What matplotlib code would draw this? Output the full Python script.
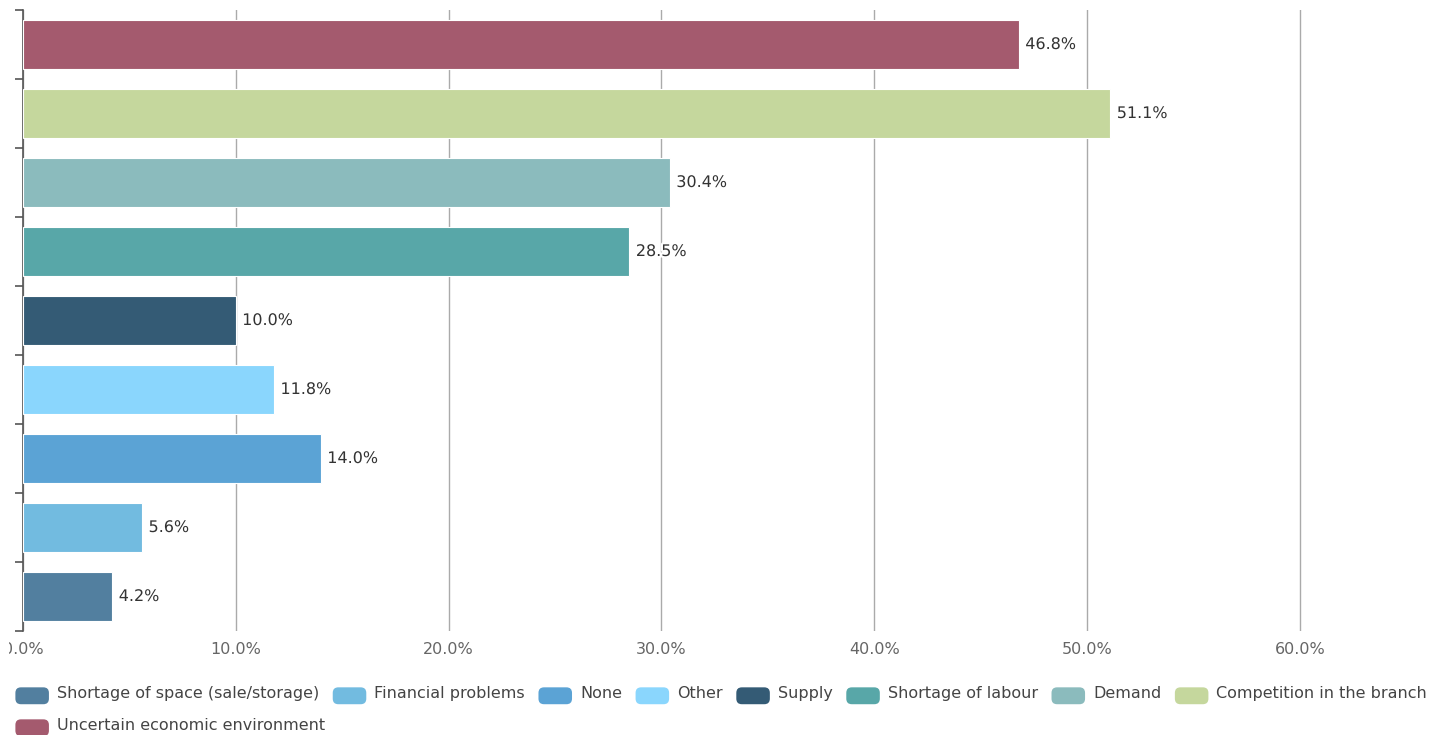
import matplotlib
matplotlib.use("Agg")
import matplotlib.pyplot as plt
import matplotlib.patheffects as pe
from matplotlib.patches import FancyBboxPatch, Patch
from matplotlib.legend_handler import HandlerPatch
from matplotlib.transforms import Bbox, TransformedBbox
import numpy as np

# obstacles to business, share of answers (%), bottom to top
categories = [
    "Shortage of space (sale/storage)",
    "Financial problems",
    "None",
    "Other",
    "Supply",
    "Shortage of labour",
    "Demand",
    "Competition in the branch",
    "Uncertain economic environment",
]
values = [4.2, 5.6, 14.0, 11.8, 10.0, 28.5, 30.4, 51.1, 46.8]
colors = ["#527f9f", "#72bbe0", "#5ba3d5", "#8ad6fd", "#345b75",
          "#58a7a8", "#8bbbbd", "#c5d79d", "#a45a6e"]
xticks = [0, 10, 20, 30, 40, 50, 60]

plt.rcParams['font.family'] = ['DejaVu Sans']
FS = 11.5

W, H = 1450, 735
fig = plt.figure(figsize=(W / 100, H / 100), dpi=100)
ax = fig.add_axes([23 / W, 1 - 631 / H, (1448 - 23) / W, (631 - 10) / H])

y = np.arange(len(categories))
bars = ax.barh(y, values, height=0.7, color=colors, edgecolor="white",
               linewidth=0.8, zorder=3)

for b, v in zip(bars, values):
    ax.text(v + 0.3, b.get_y() + b.get_height() / 2, f"{v:.1f}%",
            va="center", ha="left", fontsize=FS, color="#333333", zorder=4,
            path_effects=[pe.withStroke(linewidth=3, foreground="white")])

ax.set_xlim(0, (1448 - 23) / 21.28)
ax.set_ylim(-0.5, len(categories) - 0.5)
ax.set_xticks(xticks)
ax.set_xticklabels([f"{t:.1f}%" for t in xticks], fontsize=FS, color="#666666")
ax.set_yticks(np.arange(-0.5, len(categories), 1.0))
ax.set_yticklabels([])
ax.tick_params(axis="x", length=0, pad=8)
ax.tick_params(axis="y", length=6, width=1.2, color="#555555", direction="out")
ax.grid(axis="x", color="#aaaaaa", linewidth=1, zorder=0)
for s in ["top", "right", "bottom"]:
    ax.spines[s].set_visible(False)
ax.spines["left"].set_color("#555555")
ax.spines["left"].set_linewidth(1.2)

# first tick label runs off the left edge of the chart area
first = ax.get_xticklabels()[0]
first.set_clip_box(TransformedBbox(Bbox([[9 / W, 0], [1, 1]]), fig.transFigure))
first.set_clip_on(True)


class RoundBox(HandlerPatch):
    def create_artists(self, legend, orig_handle, xdescent, ydescent,
                       width, height, fontsize, trans):
        p = FancyBboxPatch((-xdescent, -ydescent - 2), width, height,
                           boxstyle="round,pad=0,rounding_size=4",
                           facecolor=orig_handle.get_facecolor(),
                           edgecolor="none", transform=trans)
        return [p]


handles = [Patch(facecolor=c, label=l) for c, l in zip(colors, categories)]
leg_kw = dict(frameon=False, fontsize=FS, handlelength=2.1, handleheight=1.25,
              handletextpad=0.5, columnspacing=0.85, borderaxespad=0,
              handler_map={Patch: RoundBox()}, labelcolor="#444444")
leg1 = fig.legend(handles=handles[:8], ncol=8, loc="center left",
                  bbox_to_anchor=(9 / W, 1 - 693 / H), **leg_kw)
leg2 = fig.legend(handles=handles[8:], ncol=1, loc="center left",
                  bbox_to_anchor=(9 / W, 1 - 725 / H), **leg_kw)

fig.savefig("out.png", dpi=100)
